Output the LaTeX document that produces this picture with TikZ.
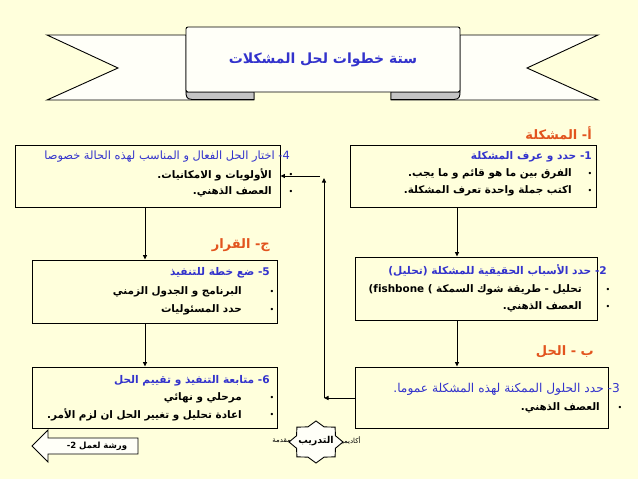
\documentclass[tikz,border=0pt]{standalone}
\usepackage{fontspec}
\usetikzlibrary{arrows.meta}
\TeXXeTstate=1
\newfontfamily\arabicfont[Script=Arabic]{DejaVu Sans}
\newcommand\artext[1]{\arabicfont\beginR #1\endR}
\definecolor{bg}{HTML}{FFFFDC}
\definecolor{ttl}{HTML}{3333CC}
\definecolor{sect}{HTML}{E2541E}
\definecolor{foldc}{HTML}{C4C4C4}
\definecolor{paper}{HTML}{FFFFF8}
\begin{document}
\begin{tikzpicture}[x=1pt,y=-1pt,
  box/.style={draw, line width=0.9pt, minimum width=#1, inner sep=0pt},
  txt/.style={inner sep=0pt, anchor=east, font=\fontsize{10.4}{12}\selectfont\bfseries},
  ttltxt/.style={inner sep=0pt, anchor=east, text=ttl, font=\fontsize{10.6}{12}\selectfont\bfseries},
  ttlreg/.style={inner sep=0pt, anchor=east, text=ttl, font=\fontsize{11.4}{13}\selectfont},
  secttxt/.style={inner sep=0pt, anchor=east, text=sect, font=\fontsize{13}{15}\selectfont\bfseries},
  bul/.style={inner sep=0pt, font=\fontsize{8}{10}\selectfont},
  arr/.style={line width=0.9pt, -{Triangle[length=4.5pt,width=4pt]}},
  banner/.style={draw, line width=0.9pt, fill=paper}]
\useasboundingbox (0,0) rectangle (638,479);
\fill[bg] (0,0) rectangle (638,479);

% banner
\draw[banner] (186,35) -- (47,35) -- (118,68) -- (47,100) -- (254,100) -- (254,92) -- (186,92) -- cycle;
\draw[banner] (460,35) -- (598,35) -- (527,68) -- (598,100) -- (391,100) -- (391,92) -- (460,92) -- cycle;
\draw[line width=0.9pt, fill=foldc] (254,92) -- (254,99.5) -- (192,99.5) .. controls (186,99.5) and (186,95) .. (186,92) -- cycle;
\draw[line width=0.9pt, fill=foldc] (391,92) -- (391,99.5) -- (454,99.5) .. controls (460,99.5) and (460,95) .. (460,92) -- cycle;
\node[banner, rounded corners=2pt, minimum width=274pt, minimum height=65pt, inner sep=0pt,
  text=ttl, font=\fontsize{14}{16}\selectfont\bfseries] (bann) at (323,59.5) {\artext{ستة خطوات لحل المشكلات}};

% section labels
\node[secttxt] (sa) at (592,133) {\artext{أ- المشكلة}};
\node[secttxt] (sc) at (270,245) {\artext{ج- القرار}};
\node[secttxt] (sb) at (594,352) {\artext{ب - الحل}};

% boxes
\node[box=246pt, minimum height=62pt] (b1) at (473,176) {};
\node[box=265pt, minimum height=62pt] (b4) at (147.5,176) {};
\node[box=242pt, minimum height=63pt] (b2) at (476,288.5) {};
\node[box=245pt, minimum height=63pt] (b5) at (154.5,291.5) {};
\node[box=253pt, minimum height=61pt] (b3) at (481.5,397.5) {};
\node[box=245pt, minimum height=61pt] (b6) at (154.5,397.5) {};

% box 1
\node[ttltxt] (t1) at (592,157) {\artext{1{}- حدد و عرف المشكلة}};
\node[bul] (p11) at (590,174) {\artext{•}};
\node[txt] (l11) at (572,174) {\artext{الفرق بين ما هو قائم و ما يجب.}};
\node[bul] (p12) at (590,191) {\artext{•}};
\node[txt] (l12) at (572,191) {\artext{اكتب جملة واحدة تعرف المشكلة.}};

% box 4
\node[ttlreg] (t4) at (290,157) {\artext{4{}- اختار الحل الفعال و المناسب لهذه الحالة خصوصا}};
\node[bul] (p41) at (291,175) {\artext{•}};
\node[txt] (l41) at (272,175) {\artext{الأولويات و الامكانيات.}};
\node[bul] (p42) at (291,192) {\artext{•}};
\node[txt] (l42) at (272,192) {\artext{العصف الذهني.}};

% box 2
\node[ttltxt] (t2) at (607,270) {\artext{2{}- حدد الأسباب الحقيقية للمشكلة (تحليل)}};
\node[bul] (p21) at (608,290) {\artext{•}};
\node[txt] (l21) at (582,290) {\artext{تحليل - طريقة شوك السمكة \beginL(fishbone )\endL}};
\node[bul] (p22) at (608,307) {\artext{•}};
\node[txt] (l22) at (582,307) {\artext{العصف الذهني.}};

% box 5
\node[ttltxt] (t5) at (270,273) {\artext{5{}- ضع خطة للتنفيذ}};
\node[bul] (p51) at (272,292) {\artext{•}};
\node[txt] (l51) at (242,292) {\artext{البرنامج و الجدول الزمني}};
\node[bul] (p52) at (272,310) {\artext{•}};
\node[txt] (l52) at (242,310) {\artext{حدد المسئوليات}};

% box 3
\node[ttlreg, font=\fontsize{12.2}{14}\selectfont] (t3) at (620,389) {\artext{3{}- حدد الحلول الممكنة لهذه المشكلة عموما.}};
\node[bul] (p31) at (620,408) {\artext{•}};
\node[txt] (l31) at (600,408) {\artext{العصف الذهني.}};

% box 6
\node[ttltxt] (t6) at (270,381) {\artext{6{}- متابعة التنفيذ و تقييم الحل}};
\node[bul] (p61) at (272,398) {\artext{•}};
\node[txt] (l61) at (242,398) {\artext{مرحلي و نهائي}};
\node[bul] (p62) at (272,415) {\artext{•}};
\node[txt] (l62) at (242,415) {\artext{اعادة تحليل و تغيير الحل ان لزم الأمر.}};

% connectors
\coordinate (cR) at (457,0);
\coordinate (cL) at (145,0);
\draw[arr] (b1.south -| cR) -- (b2.north -| cR);
\draw[arr] (b2.south -| cR) -- (b3.north -| cR);
\draw[arr] (b4.south -| cL) -- (b5.north -| cL);
\draw[arr] (b5.south -| cL) -- (b6.north -| cL);
\coordinate (j1) at (324,398);
\coordinate (j2) at (324,178);
\coordinate (j3) at (320,176);
\draw[arr] (b3.west |- j1) -- (j1);
\draw[arr] (j1) -- (j2);
\draw[arr] (j3) -- (b4.east |- j3);

% bottom: workshop arrow
\draw[line width=0.9pt, fill=paper] (32,446) -- (48,430) -- (48,438) -- (138,438) -- (138,454) -- (48,454) -- (48,462) -- cycle;
\node[inner sep=0pt, font=\fontsize{8.5}{10}\selectfont\bfseries] (ws) at (97,446) {\artext{ورشة لعمل \beginL2{}-\endL}};

% bottom: star
\node[inner sep=0pt, font=\fontsize{7}{8}\selectfont, anchor=west] (aka) at (338,441) {\artext{أكاديمية}};
\node[inner sep=0pt, font=\fontsize{7}{8}\selectfont, anchor=east] (muq) at (291,441) {\artext{مقدمة}};
\draw[line width=0.9pt, fill=paper, shift={(316,442)}]
  plot[samples at={0,22.5,...,337.5}] ({27*cos(\x)*(1-0.22*mod(round(\x/22.5),2))}, {21*sin(\x)*(1-0.22*mod(round(\x/22.5),2))}) -- cycle;
\node[inner sep=0pt, font=\fontsize{9.5}{11}\selectfont\bfseries] (trn) at (316,441) {\artext{التدريب}};
\end{tikzpicture}
\end{document}
